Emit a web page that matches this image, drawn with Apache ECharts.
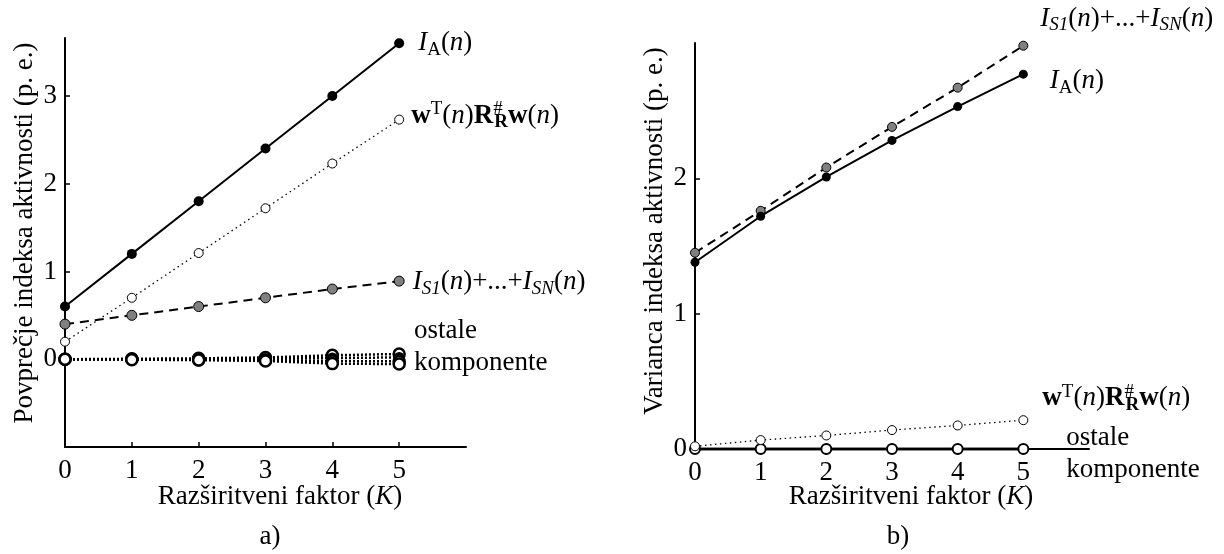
<!DOCTYPE html>
<html><head><meta charset="utf-8">
<script src="https://cdn.jsdelivr.net/npm/echarts@6/dist/echarts.min.js"></script>
<style>html,body{margin:0;padding:0;background:#fff}#c{width:1224px;height:554px}</style>
</head><body><div id="c"></div>
<script>
// ---- data ----
const K = [0, 1, 2, 3, 4, 5];
const xTicks = [0, 1, 2, 3, 4, 5];
const yTicksA = [0, 1, 2, 3];
const yTicksB = [0, 1, 2];
// chart a) mean of activity index
const meanIA = [0.6, 1.2, 1.8, 2.4, 3.0, 3.6];
const meanW = [0.2, 0.7, 1.21, 1.72, 2.23, 2.73];
const meanIS = [0.4, 0.5, 0.6, 0.7, 0.8, 0.89];
const meanOther1 = [0, 0.005, 0.01, 0.02, 0.045, 0.06];
const meanOther2 = [0, 0, 0, 0.005, 0.015, 0.02];
const meanOther3 = [0, 0, -0.005, -0.01, -0.02, -0.025];
const meanOther4 = [0, -0.005, -0.01, -0.02, -0.05, -0.055];
// chart b) variance of activity index
const varIS = [1.45, 1.76, 2.08, 2.38, 2.67, 2.98];
const varIA = [1.38, 1.72, 2.01, 2.28, 2.53, 2.77];
const varW = [0.02, 0.066, 0.10, 0.14, 0.174, 0.213];
const varOther1 = [0, 0, 0, 0, 0, 0];
const varOther2 = [0, 0, 0, 0, 0, 0];

const FONT = 'Liberation Serif';
const FS = 27;
const rich = {
  n: {fontFamily: FONT, fontSize: FS, lineHeight: 32, color: '#000'},
  i: {fontFamily: FONT, fontSize: FS, lineHeight: 32, fontStyle: 'italic', color: '#000'},
  b: {fontFamily: FONT, fontSize: FS, lineHeight: 32, fontWeight: 'bold', color: '#000'},
  subI: {fontFamily: FONT, fontSize: 19, lineHeight: 20, fontStyle: 'italic', verticalAlign: 'bottom', color: '#000'},
  sub: {fontFamily: FONT, fontSize: 19, lineHeight: 20, verticalAlign: 'bottom', color: '#000'},
  subB: {fontFamily: FONT, fontSize: 19, lineHeight: 20, fontWeight: 'bold', verticalAlign: 'bottom', color: '#000'},
  sup: {fontFamily: FONT, fontSize: 19, lineHeight: 20, verticalAlign: 'top', color: '#000'},
  supN: {fontFamily: FONT, fontSize: 19, lineHeight: 20, verticalAlign: 'top', color: '#000', width: 1}
};
const txtIA = '{i|I}{sub|A}{n|(}{i|n}{n|)}';
const txtW = '{b|w}{sup|T}{n|(}{i|n}{n|)}{b|R}{supN|#}{subB|R}{b|w}{n|(}{i|n}{n|)}';
const txtIS = '{i|I}{subI|S1}{n|(}{i|n}{n|)+...+}{i|I}{subI|SN}{n|(}{i|n}{n|)}';
const txtOther = '{o|ostale}\n{o|komponente}';
const richAll = Object.assign({}, rich, {o: {fontFamily: FONT, fontSize: FS, lineHeight: 32, color: '#000', align: 'left'}});

function mkLabel(text, distance, offset) {
  return {show: true, position: 'right', distance: distance, offset: offset, formatter: text, rich: richAll, align: 'left'};
}

function mkSeries(ys, axis, style, label) {
  return {
    type: 'line', xAxisIndex: axis, yAxisIndex: axis, clip: false, z: style.z || 2,
    symbol: 'circle', symbolSize: style.size,
    itemStyle: {color: style.fill, borderColor: '#000', borderWidth: style.bw},
    lineStyle: {color: '#000', width: style.lw, type: style.lt},
    emphasis: {disabled: true},
    data: K.map((k, i) => (label && i === K.length - 1) ? {value: [k, ys[i]], label: label} : [k, ys[i]])
  };
}

const solidBlack = (s) => ({size: s, fill: '#000', bw: 0, lw: 2, lt: 'solid', z: 4});
const openDot = (s) => ({size: s, fill: '#fff', bw: 1, lw: 1.3, lt: [1.5, 3.5], z: 3});
const grayDash = (s) => ({size: s, fill: '#808080', bw: 1, lw: 2, lt: [9, 6], z: 3});
const otherOpen = {size: 11, fill: '#fff', bw: 2.5, lw: 2.5, lt: [2, 2], z: 2};
const otherFill = {size: 11, fill: '#000', bw: 0, lw: 2.5, lt: [2, 2], z: 2};

function xAxisCfg(gi) {
  return {
    type: 'value', gridIndex: gi, min: 0, max: 6, interval: 1,
    axisLine: {show: true, onZero: false, lineStyle: {color: '#000', width: 2}},
    axisTick: {show: true, inside: true, length: 5, customValues: xTicks, lineStyle: {color: '#000', width: 1.5}},
    axisLabel: {customValues: xTicks, color: '#000', fontFamily: FONT, fontSize: FS, margin: 10},
    splitLine: {show: false}
  };
}
function yAxisCfg(gi, min, max, ticks) {
  return {
    type: 'value', gridIndex: gi, min: min, max: max, interval: 1,
    axisLine: {show: true, onZero: false, lineStyle: {color: '#000', width: 2}},
    axisTick: {show: true, inside: true, length: 5, customValues: ticks, lineStyle: {color: '#000', width: 1.5}},
    axisLabel: {customValues: ticks, color: '#000', fontFamily: FONT, fontSize: FS, margin: 8},
    splitLine: {show: false}
  };
}

const chart = echarts.init(document.getElementById('c'), null, {renderer: 'canvas'});
chart.setOption({
  animation: false,
  backgroundColor: '#fff',
  grid: [
    {left: 65, top: 38, width: 401, height: 409},
    {left: 695, top: 43, width: 394, height: 406}
  ],
  xAxis: [xAxisCfg(0), xAxisCfg(1)],
  yAxis: [yAxisCfg(0, -1, 3.66, yTicksA), yAxisCfg(1, 0, 3, yTicksB)],
  series: [
    mkSeries(meanOther1, 0, otherOpen, mkLabel(txtOther, 8, [0, -7])),
    mkSeries(meanOther2, 0, otherFill),
    mkSeries(meanOther3, 0, otherOpen),
    mkSeries(meanOther4, 0, otherOpen),
    mkSeries(meanIS, 0, grayDash(10), mkLabel(txtIS, 8, [0, 1])),
    mkSeries(meanW, 0, openDot(9), mkLabel(txtW, 7, [0, -4])),
    mkSeries(meanIA, 0, solidBlack(10), mkLabel(txtIA, 14, [0, 0])),

    mkSeries(varOther1, 1, {size: 10, fill: '#000', bw: 0, lw: 2.5, lt: 'solid', z: 2}, mkLabel(txtOther, 38, [0, 5])),
    mkSeries(varOther2, 1, {size: 10, fill: '#fff', bw: 2, lw: 2.5, lt: 'solid', z: 2}),
    mkSeries(varW, 1, openDot(9), mkLabel(txtW, 14, [0, -22])),
    mkSeries(varIS, 1, grayDash(9), mkLabel(txtIS, 12, [0, -27])),
    mkSeries(varIA, 1, solidBlack(9), mkLabel(txtIA, 22, [0, 7]))
  ],
  graphic: [
    {type: 'text', x: 25, y: 233, rotation: Math.PI / 2,
     style: {text: 'Povprečje indeksa aktivnosti (p. e.)', fontFamily: FONT, fontSize: FS, fill: '#000', align: 'center', verticalAlign: 'middle'}},
    {type: 'text', x: 655, y: 231, rotation: Math.PI / 2,
     style: {text: 'Varianca indeksa aktivnosti (p. e.)', fontFamily: FONT, fontSize: FS, fill: '#000', align: 'center', verticalAlign: 'middle'}},
    {type: 'text', x: 280, y: 497,
     style: {text: 'Razširitveni faktor ({i|K})', fontFamily: FONT, fontSize: FS, fill: '#000', align: 'center', verticalAlign: 'middle', rich: rich}},
    {type: 'text', x: 911, y: 497,
     style: {text: 'Razširitveni faktor ({i|K})', fontFamily: FONT, fontSize: FS, fill: '#000', align: 'center', verticalAlign: 'middle', rich: rich}},
    {type: 'text', x: 270, y: 537,
     style: {text: 'a)', fontFamily: FONT, fontSize: FS, fill: '#000', align: 'center', verticalAlign: 'middle'}},
    {type: 'text', x: 898, y: 537,
     style: {text: 'b)', fontFamily: FONT, fontSize: FS, fill: '#000', align: 'center', verticalAlign: 'middle'}}
  ]
});
</script>
</body></html>
